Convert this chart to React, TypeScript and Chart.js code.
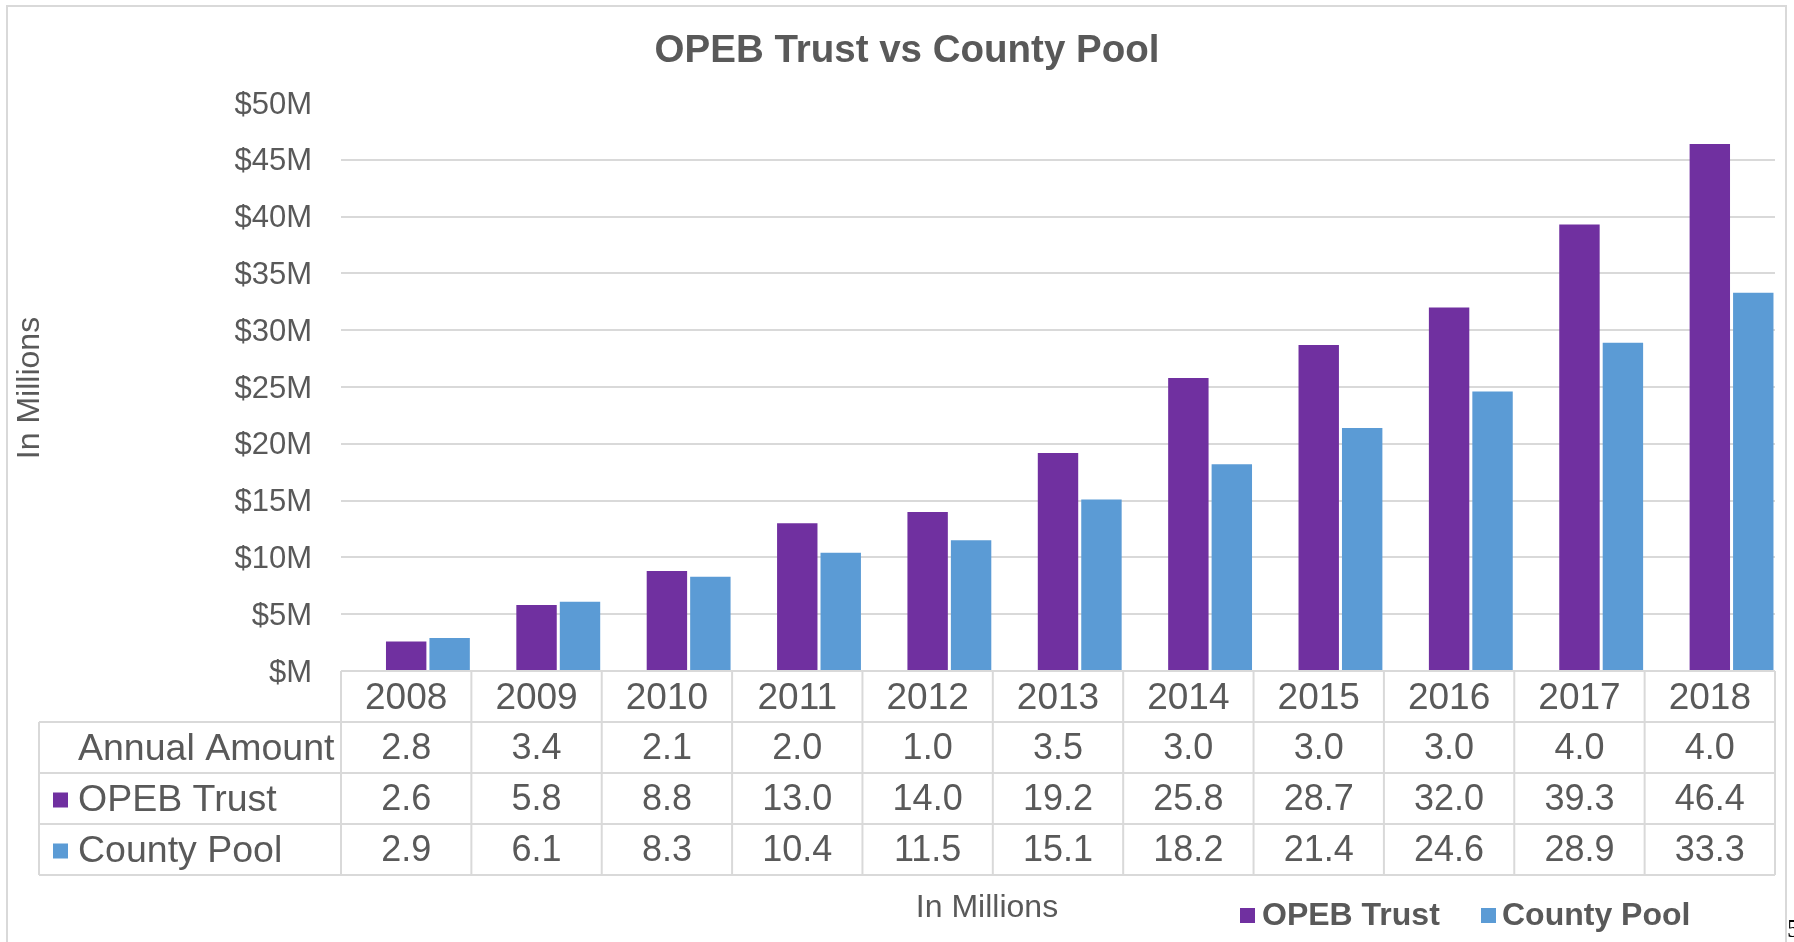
import React, { useEffect, useRef } from 'react';
import { Chart, registerables } from 'chart.js';

Chart.register(...registerables);

// ---- Data ----
const years = ['2008', '2009', '2010', '2011', '2012', '2013', '2014', '2015', '2016', '2017', '2018'];
const annualAmount = [2.8, 3.4, 2.1, 2.0, 1.0, 3.5, 3.0, 3.0, 3.0, 4.0, 4.0];
const opebTrust = [2.6, 5.8, 8.8, 13.0, 14.0, 19.2, 25.8, 28.7, 32.0, 39.3, 46.4];
const countyPool = [2.9, 6.1, 8.3, 10.4, 11.5, 15.1, 18.2, 21.4, 24.6, 28.9, 33.3];
const seriesNames = ['Annual Amount', 'OPEB Trust', 'County Pool'];
const yMin = 0;
const yMax = 50;
const yStep = 5;
const chartTitle = 'OPEB Trust vs County Pool';
const axisTitle = 'In Millions';
const pageNumber = '5';

// ---- Styles ----
const PURPLE = '#7030A0';
const BLUE = '#5B9BD5';
const TEXT = '#595959';
const LINE = '#d9d9d9';
const FONT = '"Liberation Sans", Arial, sans-serif';

const tableRows = [annualAmount, opebTrust, countyPool];
const rowKeys: (string | null)[] = [null, PURPLE, BLUE];

const decorPlugin = {
  id: 'decor',
  afterDraw(chart: any) {
    const { ctx, chartArea } = chart;
    const n = years.length;
    const left = chartArea.left;
    const right = chartArea.right;
    const colW = (right - left) / n;
    const r0 = chartArea.bottom;
    const rowH = 51;
    const tableLeft = 39;
    const tableBottom = r0 + rowH * 4;

    ctx.save();
    // outer chart border
    ctx.strokeStyle = LINE;
    ctx.lineWidth = 2;
    ctx.strokeRect(7, 6, 1779, 960);

    // table lines
    ctx.beginPath();
    ctx.moveTo(left, r0);
    ctx.lineTo(right, r0);
    for (let k = 1; k <= 4; k++) {
      ctx.moveTo(tableLeft, r0 + k * rowH);
      ctx.lineTo(right, r0 + k * rowH);
    }
    ctx.moveTo(tableLeft, r0 + rowH);
    ctx.lineTo(tableLeft, tableBottom);
    for (let i = 0; i <= n; i++) {
      const x = left + i * colW;
      ctx.moveTo(x, r0);
      ctx.lineTo(x, tableBottom);
    }
    ctx.stroke();

    // table text
    ctx.fillStyle = TEXT;
    ctx.textAlign = 'center';
    ctx.textBaseline = 'middle';
    ctx.font = `37px ${FONT}`;
    years.forEach((y, i) => {
      ctx.fillText(y, left + (i + 0.5) * colW, r0 + rowH / 2 + 2);
    });
    ctx.font = `36px ${FONT}`;
    tableRows.forEach((row, r) => {
      const cy = r0 + (r + 1) * rowH + rowH / 2 + 2;
      row.forEach((v, i) => {
        ctx.fillText(v.toFixed(1), left + (i + 0.5) * colW, cy);
      });
    });
    ctx.textAlign = 'left';
    ctx.font = `37.5px ${FONT}`;
    seriesNames.forEach((name, r) => {
      const cy = r0 + (r + 1) * rowH + rowH / 2 + 2;
      const key = rowKeys[r];
      if (key) {
        ctx.fillStyle = key;
        ctx.fillRect(53, cy - 8, 15, 15);
      }
      ctx.fillStyle = TEXT;
      ctx.fillText(name, 78, cy);
    });

    // title
    ctx.fillStyle = TEXT;
    ctx.textAlign = 'center';
    ctx.font = `bold 38.5px ${FONT}`;
    ctx.fillText(chartTitle, 907, 51);

    // axis titles
    ctx.font = `32px ${FONT}`;
    ctx.fillText(axisTitle, 987, 908);
    ctx.save();
    ctx.translate(30, 388);
    ctx.rotate(-Math.PI / 2);
    ctx.fillText(axisTitle, 0, 0);
    ctx.restore();

    // legend
    ctx.font = `bold 32px ${FONT}`;
    ctx.textAlign = 'left';
    const legendY = 916;
    ctx.fillStyle = PURPLE;
    ctx.fillRect(1240, legendY - 8, 15, 15);
    ctx.fillStyle = TEXT;
    ctx.fillText(seriesNames[1], 1262, legendY);
    ctx.fillStyle = BLUE;
    ctx.fillRect(1481, legendY - 8, 15, 15);
    ctx.fillStyle = TEXT;
    ctx.fillText(seriesNames[2], 1502, legendY);

    // clipped page number at the edge
    ctx.fillStyle = '#000';
    ctx.font = '26px "Liberation Serif", serif';
    ctx.textBaseline = 'alphabetic';
    ctx.fillText(pageNumber, 1787, 937);
    ctx.restore();
  },
};

export default function App() {
  const canvasRef = useRef<HTMLCanvasElement | null>(null);

  useEffect(() => {
    document.body.style.margin = '0';
    const canvas = canvasRef.current;
    if (!canvas) return;
    Chart.defaults.font.family = FONT;
    const chart = new Chart(canvas, {
      type: 'bar',
      data: {
        labels: years,
        datasets: [
          {
            label: seriesNames[0],
            data: annualAmount,
            backgroundColor: 'rgba(0,0,0,0)',
            borderWidth: 0,
            categoryPercentage: 1,
            barPercentage: 0.93,
          },
          {
            label: seriesNames[1],
            data: opebTrust,
            backgroundColor: PURPLE,
            borderWidth: 0,
            categoryPercentage: 1,
            barPercentage: 0.93,
          },
          {
            label: seriesNames[2],
            data: countyPool,
            backgroundColor: BLUE,
            borderWidth: 0,
            categoryPercentage: 1,
            barPercentage: 0.93,
          },
        ],
      },
      options: {
        responsive: false,
        animation: false,
        events: [],
        layout: { padding: { left: 0, top: 103, right: 19, bottom: 271 } },
        plugins: {
          legend: { display: false },
          title: { display: false },
          tooltip: { enabled: false },
        },
        scales: {
          x: { display: false },
          y: {
            min: yMin,
            max: yMax,
            border: { display: false },
            grid: {
              color: (c: any) => (c.tick && c.tick.value === yMax ? 'rgba(0,0,0,0)' : LINE),
              lineWidth: 2,
              drawTicks: false,
            },
            ticks: {
              stepSize: yStep,
              padding: 29,
              labelOffset: 2,
              color: TEXT,
              font: { size: 31 },
              callback: (v: any) => '$' + (v === 0 ? '' : v) + 'M',
            },
            afterFit: (s: any) => {
              s.width = 341;
            },
          },
        },
      },
      plugins: [decorPlugin],
    });
    return () => chart.destroy();
  }, []);

  return (
    <div style={{ width: 1794, height: 942, overflow: 'hidden' }}>
      <canvas ref={canvasRef} width={1794} height={942} style={{ display: 'block' }} />
    </div>
  );
}
